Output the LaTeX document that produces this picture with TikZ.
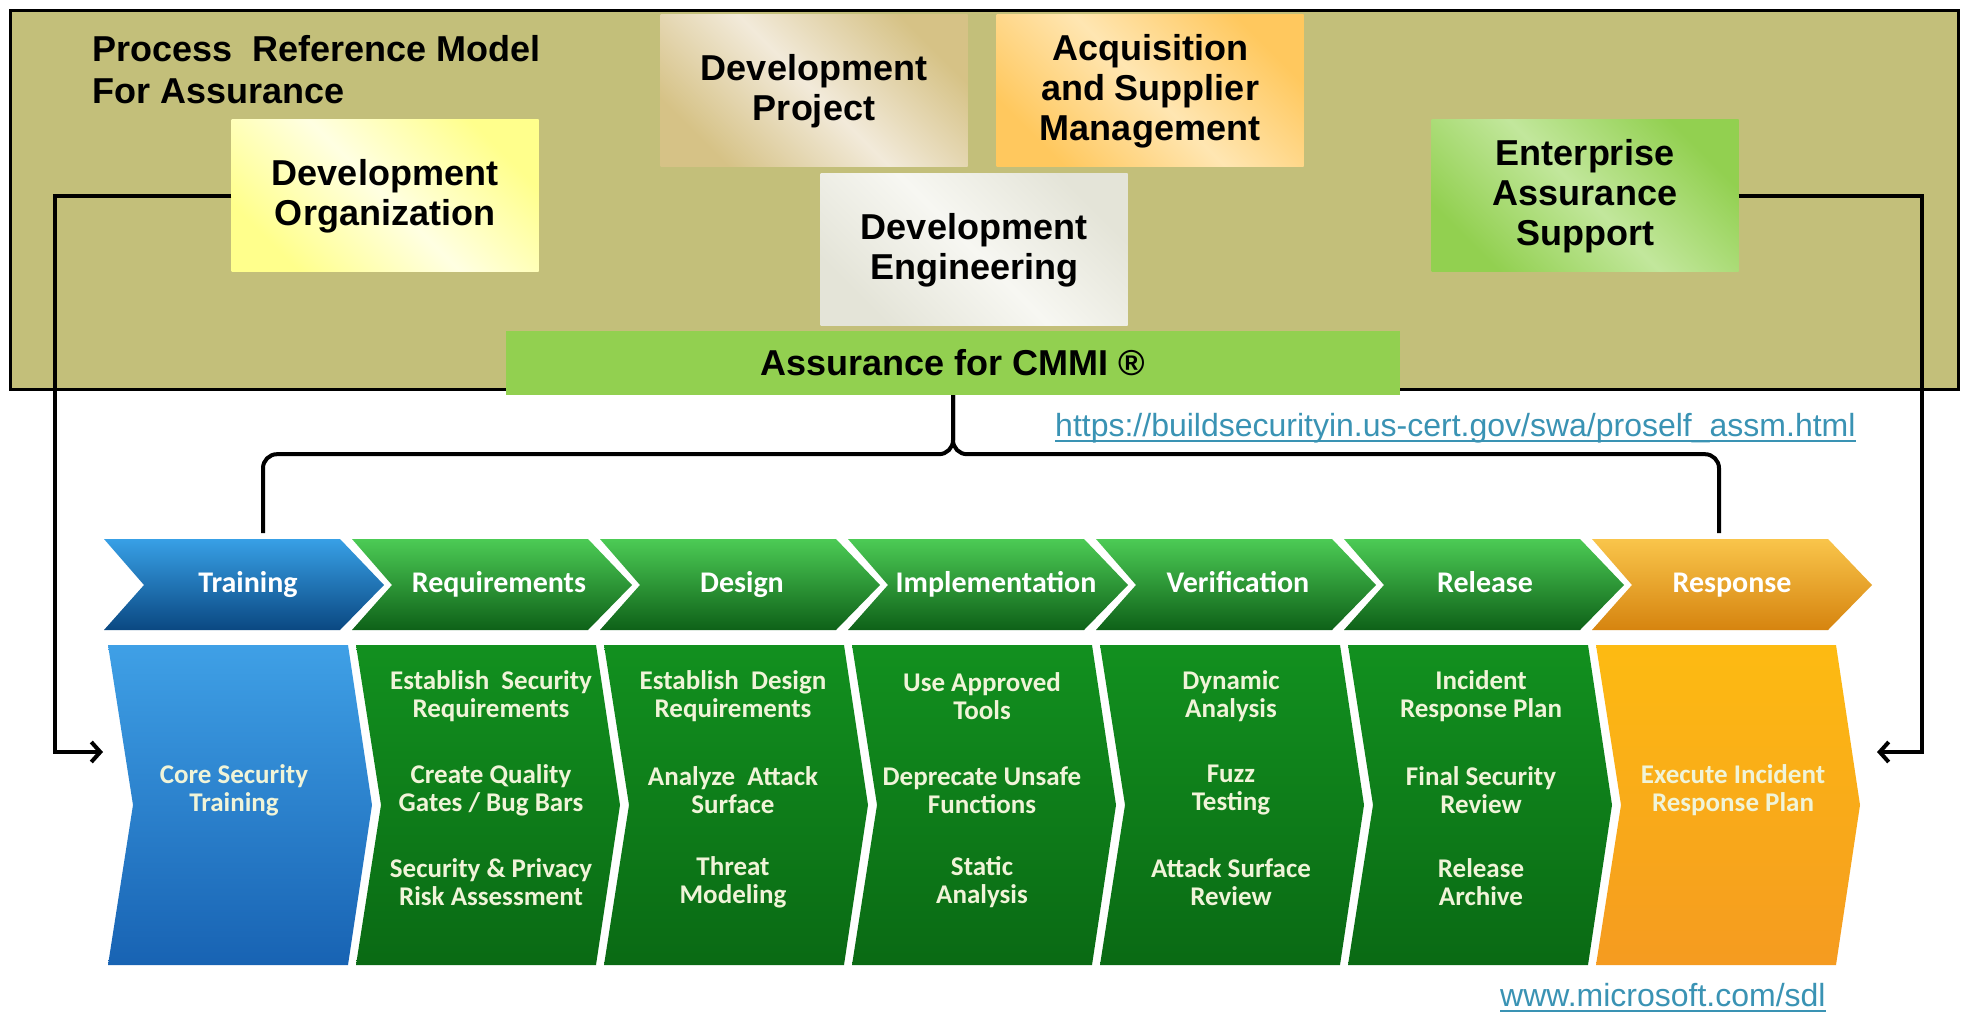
\documentclass[tikz,border=0pt]{standalone}
\usepackage{fontspec}
\setmainfont{Liberation Sans}
\newfontfamily\phasefont{Carlito}
\usetikzlibrary{arrows.meta,positioning}

\definecolor{prmback}{HTML}{C3BF7A}
\definecolor{devyel}{HTML}{FFFF8C}
\definecolor{devyelpale}{HTML}{FFFFE2}
\definecolor{projtan}{HTML}{D6C286}
\definecolor{projpale}{HTML}{F2EADA}
\definecolor{acqorange}{HTML}{FFC85E}
\definecolor{acqpale}{HTML}{FFE6B2}
\definecolor{enggrey}{HTML}{E4E4D8}
\definecolor{engpale}{HTML}{F7F7F2}
\definecolor{entgreen}{HTML}{92D050}
\definecolor{entpale}{HTML}{C2E79C}
\definecolor{cmmigreen}{HTML}{92D050}
\definecolor{urlblue}{HTML}{3A93B4}
\definecolor{taskwhite}{HTML}{F0F4D8}

\begin{document}
\begin{tikzpicture}[x=1pt,y=-1pt,
    tile/.style 2 args={top color=#1, bottom color=#1, middle color=#2, shading angle=-45,
      minimum width=307pt, minimum height=152pt, inner sep=0pt, align=center,
      font=\fontsize{36}{40}\selectfont\bfseries},
    link/.style={line width=4pt, -{Straight Barb[length=9pt,width=20pt]}},
    brace/.style={line width=4pt, rounded corners=14pt},
    weblink/.style={text=urlblue, font=\fontsize{32}{36}\selectfont, inner sep=0pt, anchor=base west},
    phase/.style={text=white, text height=21pt, text depth=6pt, inner sep=0pt,
      font=\phasefont\fontsize{30}{32}\selectfont\bfseries},
    task/.style={text=taskwhite, align=center, font=\phasefont\fontsize{27}{28}\selectfont\bfseries},
    hblue/.style={top color={rgb,255:red,56;green,160;blue,230}, middle color={rgb,255:red,24;green,112;blue,190}, bottom color={rgb,255:red,10;green,72;blue,130}},
    hgreen/.style={top color={rgb,255:red,76;green,203;blue,85}, middle color={rgb,255:red,31;green,154;blue,46}, bottom color={rgb,255:red,14;green,97;blue,24}},
    horange/.style={top color={rgb,255:red,249;green,197;blue,75}, middle color={rgb,255:red,236;green,165;blue,40}, bottom color={rgb,255:red,214;green,132;blue,15}},
    bblue/.style={top color={rgb,255:red,63;green,160;blue,230}, bottom color={rgb,255:red,24;green,99;blue,179}},
    bgreen/.style={top color={rgb,255:red,18;green,144;blue,31}, bottom color={rgb,255:red,10;green,106;blue,20}},
    borange/.style={top color={rgb,255:red,253;green,187;blue,18}, bottom color={rgb,255:red,245;green,155;blue,32}}]

  \useasboundingbox (0,0) rectangle (1965,1016);
  \fill[white] (0,0) rectangle (1965,1016);

  % process reference model
  \node[draw=black, line width=3pt, fill=prmback, minimum width=1948pt, minimum height=379pt,
        inner sep=0pt, anchor=north west] (prm) at (9,9) {};
  \node[anchor=north west, align=left, inner sep=0pt, font=\fontsize{36}{42}\selectfont\bfseries]
        (title) at (92,35) {Process~ Reference Model\\For Assurance};

  \node[tile={devyel}{devyelpale}] (devorg) at (385,196) {Development\\Organization};
  \node[tile={projtan}{projpale}] (devproj) at (814,91) {Development\\Project};
  \node[tile={acqorange}{acqpale}] (acq) at (1150,91) {Acquisition\\and Supplier\\Management};
  \node[tile={enggrey}{engpale}] (deveng) at (974,250) {Development\\Engineering};
  \node[tile={entgreen}{entpale}] (ent) at (1585,196) {Enterprise\\Assurance\\Support};
  \node[fill=cmmigreen, minimum width=894pt, minimum height=64pt, inner sep=0pt,
        font=\fontsize{36}{40}\selectfont\bfseries] (cmmi) at (953,363) {Assurance for CMMI ®};

  \node[weblink] (cert) at (1055,436) {https://buildsecurityin.us-cert.gov/swa/proself\_assm.html};
  \draw[urlblue, line width=2.5pt] ([yshift=-5pt]cert.base west) -- ([yshift=-5pt]cert.base east);

  % sdl chevrons
  \foreach \i/\hs/\bs in {0/hblue/bblue, 1/hgreen/bgreen, 2/hgreen/bgreen, 3/hgreen/bgreen,
                         4/hgreen/bgreen, 5/hgreen/bgreen, 6/horange/borange} {
    \pgfmathsetmacro\xo{104+248*\i}
    \shade[\hs] (\xo,539) -- ++(236,0) -- ++(44,46) -- ++(-44,45) -- ++(-236,0) -- ++(40,-45) -- cycle;
    \shade[\bs] (\xo+4,645) -- (\xo+244,645) -- (\xo+268,805) -- (\xo+244,965) -- (\xo+4,965) -- (\xo+29,805) -- cycle;
  }

  \node[phase] (pTrain) at (248,585) {Training};
  \node[phase] (pReq) at (499,585) {Requirements};
  \node[phase] (pDes) at (742,585) {Design};
  \node[phase] (pImpl) at (996,585) {Implementation};
  \node[phase] (pVer) at (1238,585) {Verification};
  \node[phase] (pRel) at (1485,585) {Release};
  \node[phase] (pResp) at (1732,585) {Response};

  \node[task] (tTrain) at (234,790) {Core Security\\Training};
  \node[task] (tReqA) at (491,696) {Establish~ Security\\Requirements};
  \node[task] (tReqB) at (491,790) {Create Quality\\Gates / Bug Bars};
  \node[task] (tReqC) at (491,882) {Security \& Privacy\\Risk Assessment};
  \node[task] (tDesA) at (733,696) {Establish~ Design\\Requirements};
  \node[task] (tDesB) at (733,790) {Analyze~ Attack\\Surface};
  \node[task] (tDesC) at (733,882) {Threat\\Modeling};
  \node[task] (tImplA) at (982,696) {Use Approved\\Tools};
  \node[task] (tImplB) at (982,790) {Deprecate Unsafe\\Functions};
  \node[task] (tImplC) at (982,882) {Static\\Analysis};
  \node[task] (tVerA) at (1231,696) {Dynamic\\Analysis};
  \node[task] (tVerB) at (1231,790) {Fuzz\\Testing};
  \node[task] (tVerC) at (1231,882) {Attack Surface\\Review};
  \node[task] (tRelA) at (1481,696) {Incident\\Response Plan};
  \node[task] (tRelB) at (1481,790) {Final Security\\Review};
  \node[task] (tRelC) at (1481,882) {Release\\Archive};
  \node[task] (tResp) at (1733,790) {Execute Incident\\Response Plan};

  \node[weblink] (msdl) at (1500,1006) {www.microsoft.com/sdl};
  \draw[urlblue, line width=2.5pt] ([yshift=-5pt]msdl.base west) -- ([yshift=-5pt]msdl.base east);

  % brace and feeds
  \coordinate (legL) at (263,533);
  \coordinate (legR) at (1719,533);
  \coordinate (inL) at (103,752);
  \coordinate (inR) at (1877,752);
  \draw[brace] (cmmi.south) -- ++(0,59) -| (legL);
  \draw[brace] (cmmi.south) -- ++(0,59) -| (legR);
  \draw[link] (devorg.west) -- ++(-176,0) |- (inL);
  \draw[link] (ent.east) -- ++(183,0) |- (inR);
\end{tikzpicture}
\end{document}
